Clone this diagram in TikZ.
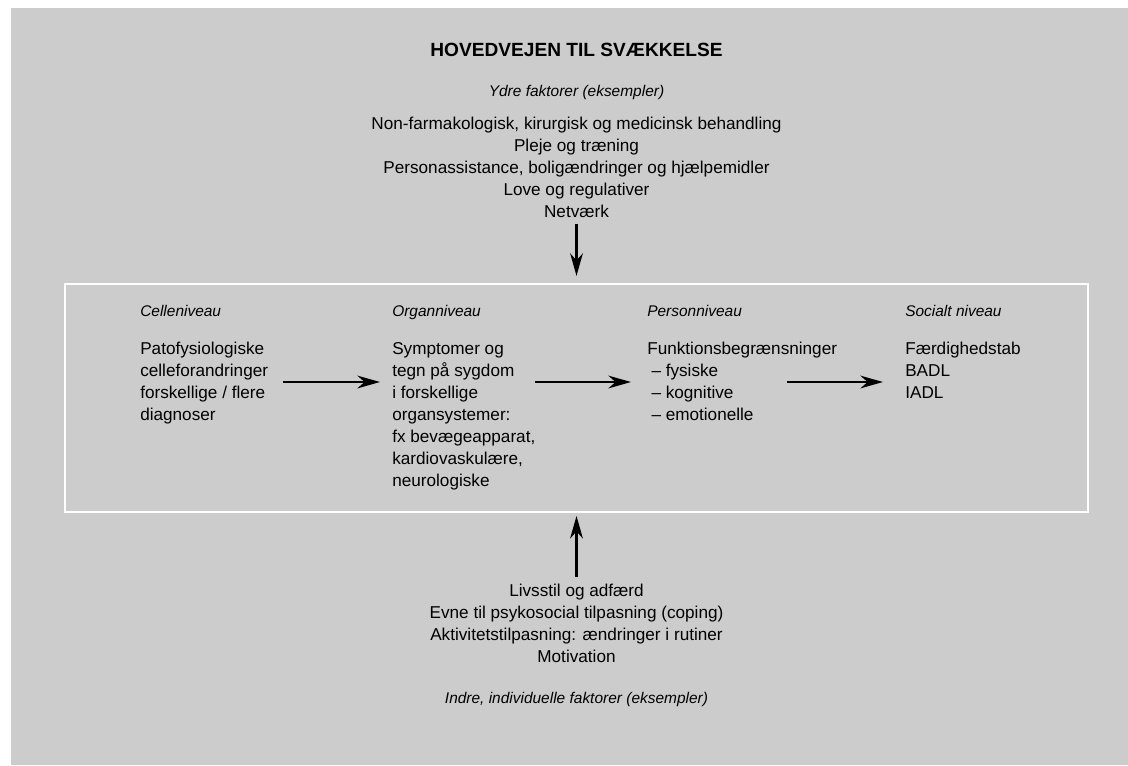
\documentclass[tikz,border=0pt]{standalone}
\usepackage{fontspec}
\setmainfont{Liberation Sans}
\usetikzlibrary{arrows.meta}

\definecolor{baggrund}{rgb}{0.8, 0.8, 0.8}
\tikzset{
  tekst/.style={inner sep=0, font=\fontsize{12.2}{15.6}\selectfont},
  overskrift/.style={inner sep=0, font=\fontsize{11}{13}\selectfont\itshape},
  pil/.style={line width=2pt, -{Stealth[length=16pt,width=9pt,inset=5pt]}}
}

\begin{document}
\begin{tikzpicture}[x=0.025cm,y=-0.025cm]
    \useasboundingbox (0,0) rectangle (1128,765);
    \fill[white] (0,0) rectangle (1128,765);
    \fill[baggrund] (11,8) rectangle (1128,765);

    \node[inner sep=0, font=\fontsize{13.6}{16}\selectfont\bfseries] (titel) at (576.5,50) {HOVEDVEJEN TIL SVÆKKELSE};
    \node[overskrift, anchor=base] (ydre_tekst) at (576.5,96) {Ydre faktorer (eksempler)};
    % base = sidste linjes grundlinje
    \node[tekst, anchor=base, align=center] (ydre) at (576.5,217.5) {Non-farmakologisk, kirurgisk og medicinsk behandling\\Pleje og træning\\Personassistance, boligændringer og hjælpemidler\\Love og regulativer\\Netværk};

    \node[draw=white, line width=1.5pt, minimum width=25.575cm, minimum height=5.7cm] (niveauer) at (576.5,398) {};

    \node[overskrift, anchor=base west] (celle_tekst) at (140,316) {Celleniveau};
    \node[overskrift, anchor=base west] (organ_tekst) at (392,316) {Organniveau};
    \node[overskrift, anchor=base west] (person_tekst) at (647,316) {Personniveau};
    \node[overskrift, anchor=base west] (social_tekst) at (905,316) {Socialt niveau};

    \node[tekst, anchor=base west, align=left] (celle) at (140,420.5) {Patofysiologiske\\celleforandringer\\forskellige / flere\\diagnoser};
    \node[tekst, anchor=base west, align=left] (organ) at (392,486.5) {Symptomer og\\tegn på sygdom\\i forskellige\\organsystemer:\\fx bevægeapparat,\\kardiovaskulære,\\neurologiske};
    \node[tekst, anchor=base west, align=left] (person) at (647,420.5) {Funktionsbegrænsninger\\\hspace*{3pt}– fysiske\\\hspace*{3pt}– kognitive\\\hspace*{3pt}– emotionelle};
    \node[tekst, anchor=base west, align=left] (social) at (905,398.5) {Færdighedstab\\BADL\\IADL};

    \node[tekst, anchor=base, align=center] (indre) at (576.5,662.5) {Livsstil og adfærd\\Evne til psykosocial tilpasning (coping)\\Aktivitetstilpasning: ændringer i rutiner\\Motivation};
    \node[overskrift, anchor=base] (indre_tekst) at (576.5,703) {Indre, individuelle faktorer (eksempler)};

    % pile mellem niveauerne
    \coordinate (p1a) at (283,382); \coordinate (p1b) at (380,382);
    \coordinate (p2a) at (535,382); \coordinate (p2b) at (631,382);
    \coordinate (p3a) at (787,382); \coordinate (p3b) at (883,382);
    \draw[pil] (p1a) -- (p1b);
    \draw[pil] (p2a) -- (p2b);
    \draw[pil] (p3a) -- (p3b);

    % ydre og indre faktorer
    \draw[pil, shorten <=4pt, shorten >=5pt] (ydre.south) -- (niveauer.north);
    \draw[pil, shorten <=5pt, shorten >=2pt] (indre.north) -- (niveauer.south);

\end{tikzpicture}
\end{document}
